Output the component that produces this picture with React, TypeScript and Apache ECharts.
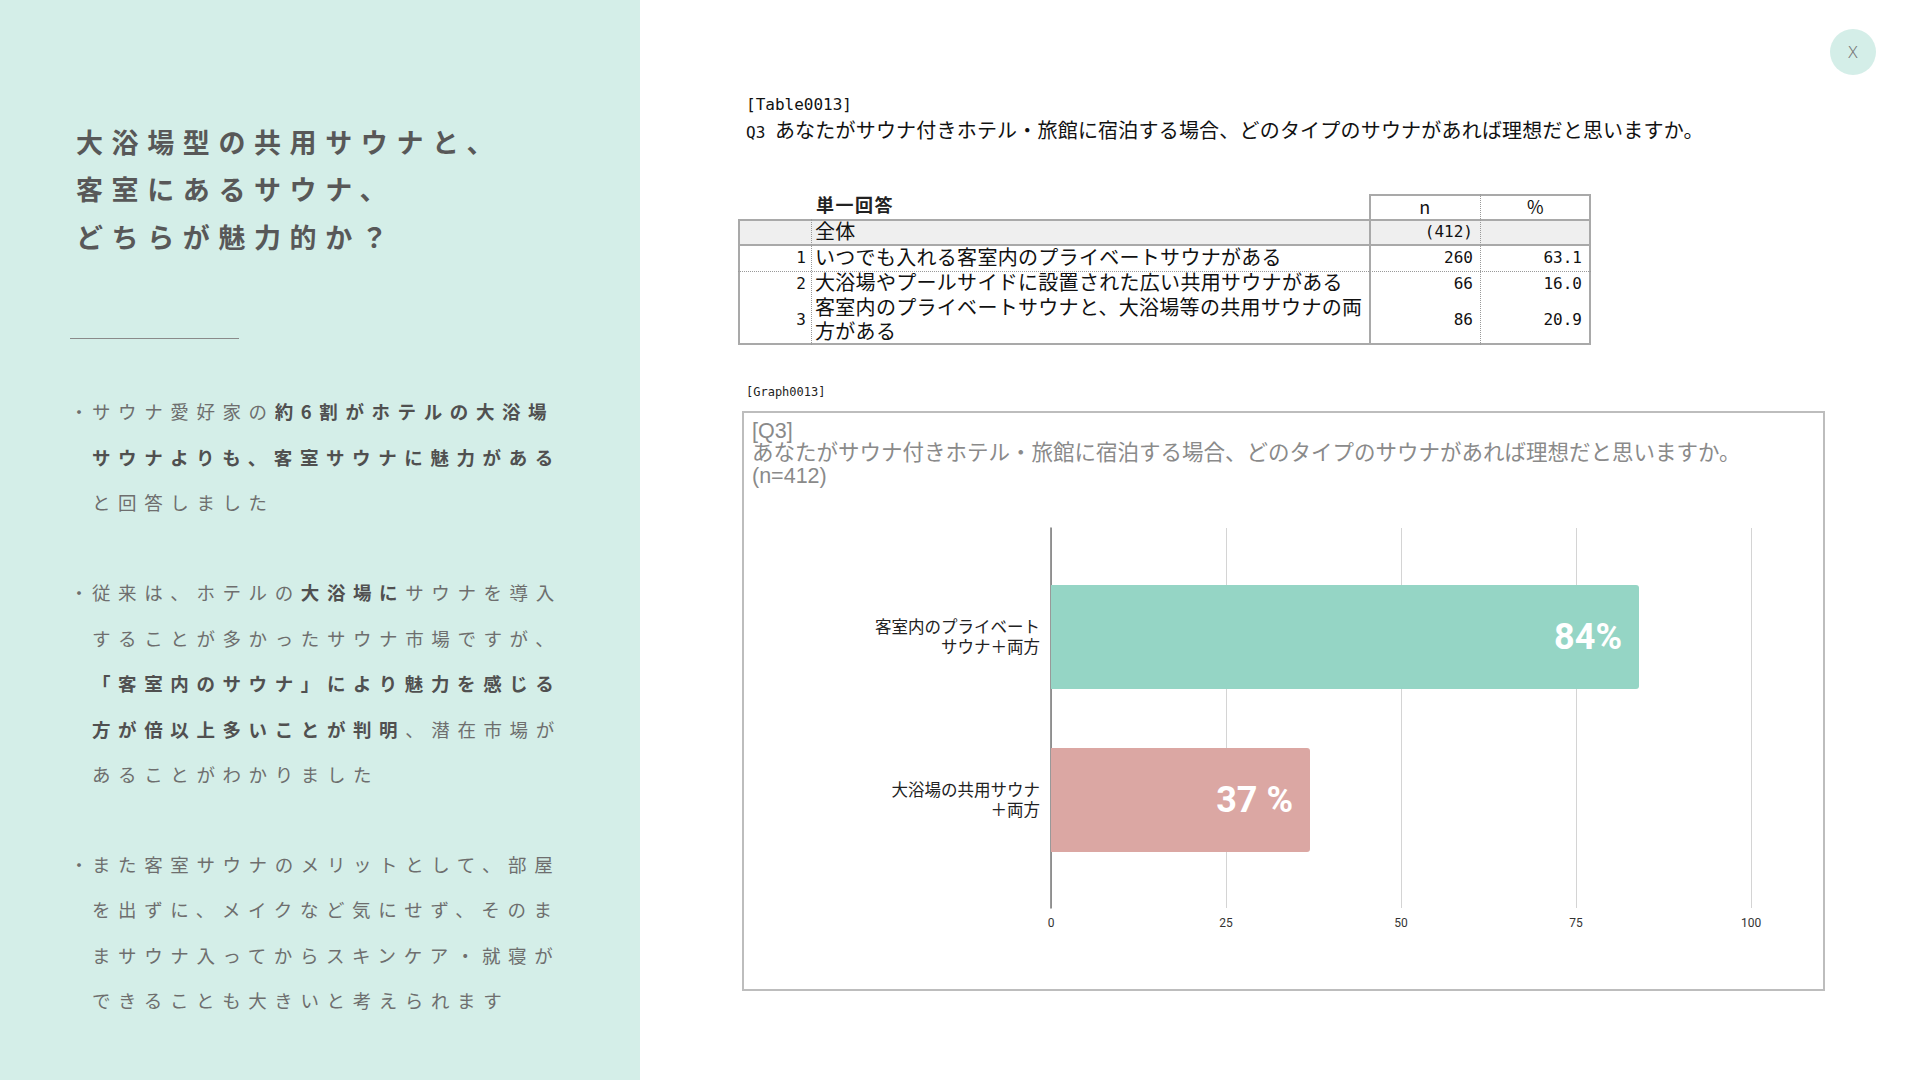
import React, { useEffect, useRef } from "react";
import * as echarts from "echarts";

// ---------- data ----------
const titleLines = ["大浴場型の共用サウナと、", "客室にあるサウナ、", "どちらが魅力的か？"];

type Seg = [string, boolean];
const bulletParagraphs: Seg[][][] = [
  [
    [["サウナ愛好家の", false], ["約6割がホテルの大浴場", true]],
    [["サウナよりも、客室サウナに魅力がある", true]],
    [["と回答しました", false]],
  ],
  [
    [["従来は、ホテルの", false], ["大浴場に", true], ["サウナを導入", false]],
    [["することが多かったサウナ市場ですが、", false]],
    [["「客室内のサウナ」により魅力を感じる", true]],
    [["方が倍以上多いことが判明", true], ["、潜在市場が", false]],
    [["あることがわかりました", false]],
  ],
  [
    [["また客室サウナのメリットとして、部屋", false]],
    [["を出ずに、メイクなど気にせず、そのま", false]],
    [["まサウナ入ってからスキンケア・就寝が", false]],
    [["できることも大きいと考えられます", false]],
  ],
];

const tableTag = "[Table0013]";
const tableQuestion = "Q3 あなたがサウナ付きホテル・旅館に宿泊する場合、どのタイプのサウナがあれば理想だと思いますか。";
const tableHeaderLabel = "単一回答";
const tableColHeaders = ["n", "%"];
const tableRowNo = ["", "1", "2", "3"];
const tableItems = [
  ["全体"],
  ["いつでも入れる客室内のプライベートサウナがある"],
  ["大浴場やプールサイドに設置された広い共用サウナがある"],
  ["客室内のプライベートサウナと、大浴場等の共用サウナの両", "方がある"],
];
const tableN = ["(412)", "260", "66", "86"];
const tablePct = ["", "63.1", "16.0", "20.9"];

const graphTag = "[Graph0013]";
const chartTitle = "[Q3]\nあなたがサウナ付きホテル・旅館に宿泊する場合、どのタイプのサウナがあれば理想だと思いますか。\n(n=412)";
const categories = ["客室内のプライベート\nサウナ＋両方", "大浴場の共用サウナ\n＋両方"];
const values = [84, 37];
const valueLabels = ["84%", "37 %"];
const barColors = ["#95d5c5", "#dba7a3"];
const xTicks = { min: 0, max: 100, interval: 25 };

// ---------- styles ----------
const JP = '"Noto Sans CJK JP", "Noto Sans", sans-serif';
// Latin-first stack (compact line metrics) with Japanese fallback
const JPC = '"Liberation Sans", "Noto Sans CJK JP", sans-serif';
const MONO = '"DejaVu Sans Mono", "Liberation Mono", monospace';
const PANEL = "#d4eee8";
const BORDER = "#a9a9a9";

const abs = (s: React.CSSProperties): React.CSSProperties => ({ position: "absolute", ...s });

function LeftPanel() {
  const paraStarts = [411, 592, 863.5];
  const pitch = 45.6;
  const lh = 44;
  return (
    <div style={abs({ left: 0, top: 0, width: 640, height: 1080, background: PANEL })}>
      {titleLines.map((t, i) => (
        <div
          key={i}
          style={abs({
            left: 76,
            top: 141.5 + i * 47.5 - 23,
            height: 46,
            lineHeight: "46px",
            fontSize: 27,
            fontWeight: 700,
            letterSpacing: "8.6px",
            color: "#585858",
            whiteSpace: "nowrap",
            fontFamily: JP,
          })}
        >
          {t}
        </div>
      ))}
      <div style={abs({ left: 70, top: 338, width: 169, height: 0, borderTop: "1.5px solid #8a8a8a" })} />
      {bulletParagraphs.map((para, pi) =>
        para.map((line, li) => {
          const cy = paraStarts[pi] + li * pitch;
          return (
            <React.Fragment key={pi + "-" + li}>
              {li === 0 && (
                <div
                  style={abs({
                    left: 70,
                    top: cy - lh / 2,
                    height: lh,
                    lineHeight: lh + "px",
                    fontSize: 18,
                    color: "#6e6e6e",
                    fontFamily: JP,
                  })}
                >
                  ・
                </div>
              )}
              <div
                style={abs({
                  left: 92,
                  top: cy - lh / 2,
                  height: lh,
                  lineHeight: lh + "px",
                  fontSize: 18.5,
                  letterSpacing: "7.6px",
                  whiteSpace: "nowrap",
                  fontFamily: JP,
                })}
              >
                {line.map(([t, b], si) => (
                  <span key={si} style={{ fontWeight: b ? 700 : 400, color: b ? "#505050" : "#6e6e6e" }}>
                    {t}
                  </span>
                ))}
              </div>
            </React.Fragment>
          );
        })
      )}
    </div>
  );
}

function Table() {
  const rowTops = [219, 245, 271, 296];
  const rowH = [26, 26, 25, 48];
  const cText: React.CSSProperties = { fontSize: 20, letterSpacing: "0.3px", color: "#111", fontFamily: JPC, whiteSpace: "nowrap" };
  const cNum: React.CSSProperties = { fontSize: 16, color: "#111", fontFamily: MONO, whiteSpace: "nowrap" };
  return (
    <>
      <div style={abs({ left: 746, top: 93, height: 24, lineHeight: "24px", ...cNum, fontSize: 16 })}>{tableTag}</div>
      <div style={abs({ left: 746, top: 117, height: 26, lineHeight: "26px", fontSize: 20, letterSpacing: "0.2px", color: "#111", fontFamily: JP, whiteSpace: "nowrap" })}>
        <span style={{ fontFamily: MONO, fontSize: 16, letterSpacing: 0 }}>{tableQuestion.slice(0, 3)}</span>
        {tableQuestion.slice(3)}
      </div>
      <div style={abs({ left: 816, top: 191, height: 26, lineHeight: "26px", fontSize: 18, fontWeight: 700, letterSpacing: "1.5px", color: "#222", fontFamily: JP })}>
        {tableHeaderLabel}
      </div>
      {/* header box */}
      <div style={abs({ left: 1369, top: 194, width: 222, height: 27, boxSizing: "border-box", border: "2px solid " + BORDER, borderBottom: "none" })} />
      {/* 全体 background */}
      <div style={abs({ left: 738, top: 219, width: 853, height: 26, background: "#efefef" })} />
      {/* outer box */}
      <div style={abs({ left: 738, top: 219, width: 853, height: 126, boxSizing: "border-box", border: "2px solid " + BORDER })} />
      {/* separators */}
      <div style={abs({ left: 738, top: 244, width: 853, height: 0, borderTop: "2px solid " + BORDER })} />
      <div style={abs({ left: 738, top: 270.5, width: 853, height: 0, borderTop: "1px dotted #999" })} />
      <div style={abs({ left: 810.5, top: 219, width: 0, height: 126, borderLeft: "1px dotted #999" })} />
      <div style={abs({ left: 1368.5, top: 194, width: 0, height: 151, borderLeft: "2px solid " + BORDER })} />
      <div style={abs({ left: 1479.5, top: 194, width: 0, height: 151, borderLeft: "1px dotted #999" })} />
      {tableColHeaders.map((h, i) => (
        <div
          key={h}
          style={abs({
            left: i === 0 ? 1370 : 1480,
            width: i === 0 ? 110 : 111,
            top: 194,
            height: 25,
            lineHeight: "25px",
            textAlign: "center",
            ...cText,
            fontFamily: JP,
            fontSize: 18,
          })}
        >
          {h}
        </div>
      ))}
      {tableItems.map((lines, r) => {
        const top = rowTops[r];
        const h = rowH[r];
        return (
          <React.Fragment key={r}>
            <div style={abs({ left: 738, width: 68, top, height: h, lineHeight: h + "px", textAlign: "right", ...cNum })}>{tableRowNo[r]}</div>
            <div style={abs({ left: 815, top, height: h, lineHeight: (lines.length > 1 ? 24 : h) + "px", ...cText })}>
              {lines.map((l, li) => (
                <div key={li}>{l}</div>
              ))}
            </div>
            <div style={abs({ left: 1370, width: 103, top, height: h, lineHeight: h + "px", textAlign: "right", ...cNum })}>{tableN[r]}</div>
            <div style={abs({ left: 1480, width: 102, top, height: h, lineHeight: h + "px", textAlign: "right", ...cNum })}>{tablePct[r]}</div>
          </React.Fragment>
        );
      })}
    </>
  );
}

function Chart() {
  const ref = useRef<HTMLDivElement>(null);
  useEffect(() => {
    if (!ref.current) return;
    const chart = echarts.init(ref.current, null, { renderer: "svg" });
    const option: any = {
      animation: false,
      title: {
        text: chartTitle,
        left: 10,
        top: 8.5,
        padding: 0,
        textStyle: { fontSize: 21.5, lineHeight: 22.5, color: "#8a8a8a", fontWeight: "normal", fontFamily: JPC },
      },
      grid: [
        { left: 309, right: 74, top: 117, bottom: 83 },
        { left: 309, right: 74, top: 144.5, bottom: 109.5 },
      ],
      xAxis: [
        {
          gridIndex: 0,
          type: "value",
          min: xTicks.min,
          max: xTicks.max,
          interval: xTicks.interval,
          axisLine: { show: false },
          axisTick: { show: false },
          splitLine: { show: true, lineStyle: { color: "#d4d4d4", width: 1 } },
          axisLabel: { fontSize: 12, color: "#333", margin: 9, fontFamily: "Liberation Sans Narrow, Roboto, sans-serif" },
        },
        { gridIndex: 1, type: "value", min: xTicks.min, max: xTicks.max, show: false },
      ],
      yAxis: [
        {
          gridIndex: 0,
          type: "value",
          min: 0,
          max: 1,
          axisLine: { show: true, lineStyle: { color: "#777", width: 1.5 } },
          axisLabel: { show: false },
          axisTick: { show: false },
          splitLine: { show: false },
        },
        {
          gridIndex: 1,
          type: "category",
          inverse: true,
          data: categories,
          axisLine: { show: false },
          axisTick: { show: false },
          axisLabel: { fontSize: 16.5, color: "#222", lineHeight: 20, margin: 11, align: "right", fontFamily: JPC },
        },
      ],
      series: [
        {
          type: "bar",
          xAxisIndex: 1,
          yAxisIndex: 1,
          barWidth: 104,
          data: values.map((v, i) => ({ value: v, itemStyle: { color: barColors[i] } })),
          itemStyle: { borderRadius: [0, 3, 3, 0] },
          label: {
            show: true,
            position: "insideRight",
            distance: 17,
            formatter: (p: any) => valueLabels[p.dataIndex],
            color: "#fff",
            fontSize: 36,
            fontWeight: "bold",
            fontFamily: "Roboto, sans-serif",
          },
        },
      ],
    };
    chart.setOption(option);
    return () => chart.dispose();
  }, []);
  return (
    <>
      <div style={abs({ left: 746, top: 382, height: 20, lineHeight: "20px", fontSize: 12, color: "#222", fontFamily: MONO })}>{graphTag}</div>
      <div ref={ref} style={abs({ left: 742, top: 411, width: 1083, height: 580 })} />
      <div style={abs({ left: 742, top: 411, width: 1083, height: 580, boxSizing: "border-box", border: "2px solid #bdbdbd", pointerEvents: "none" })} />
    </>
  );
}

export default function App() {
  useEffect(() => {
    document.body.style.margin = "0";
  }, []);
  return (
    <div style={{ position: "fixed", left: 0, top: 0, width: 1920, height: 1080, overflow: "hidden", background: "#fff", fontFamily: JP }}>
      <LeftPanel />
      <Table />
      <Chart />
      <div style={abs({ left: 1830, top: 29, width: 46, height: 46, borderRadius: "50%", background: PANEL, textAlign: "center", lineHeight: "46px", fontSize: 17, fontWeight: 300, color: "#777", fontFamily: '"Noto Sans", sans-serif' })}>
        X
      </div>
    </div>
  );
}
